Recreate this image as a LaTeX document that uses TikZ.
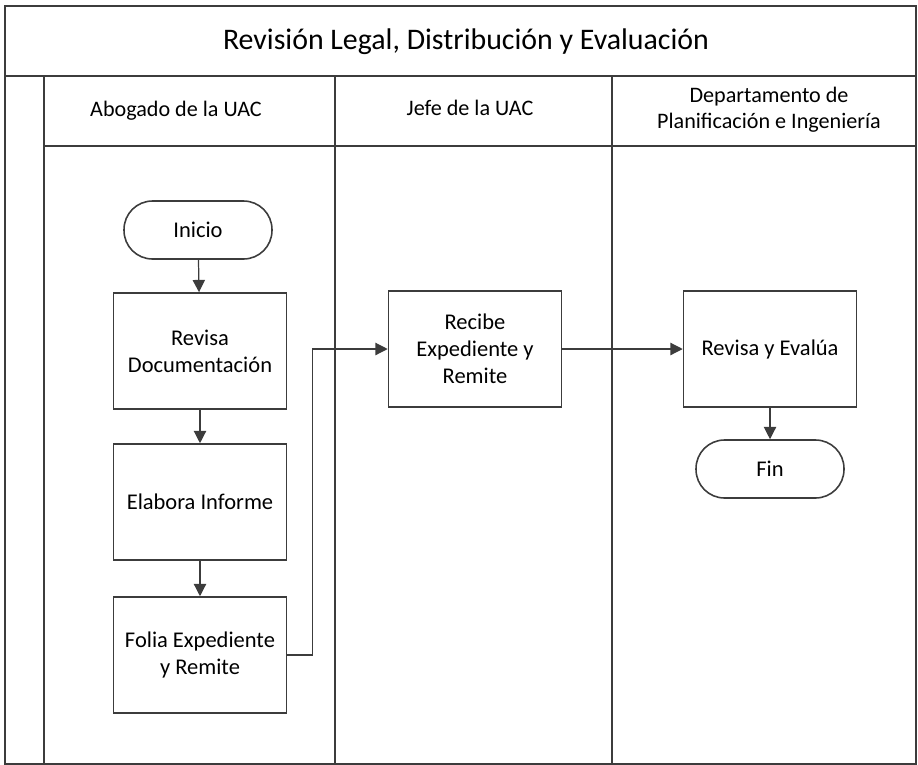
\documentclass[tikz,border=0pt]{standalone}
\usepackage{fontspec}
\setmainfont{Carlito}
\usetikzlibrary{arrows.meta,positioning}
\definecolor{lineagris}{RGB}{60,60,60}
\tikzstyle{proceso} = [draw=lineagris, line width=0.9pt, minimum width=3.46cm, minimum height=2.32cm, align=center, font=\fontsize{12.8}{15.5}\selectfont]
\tikzstyle{terminal} = [draw=lineagris, line width=0.9pt, rounded corners=0.57cm, minimum width=2.96cm, minimum height=1.16cm, font=\fontsize{12.8}{15.5}\selectfont]
\tikzstyle{carril} = [align=center, font=\fontsize{12.6}{15}\selectfont]
\tikzstyle{flecha} = [line width=0.7pt, color=lineagris, -{Triangle[length=7pt,width=7pt]}]

\begin{document}
\begin{tikzpicture}[x=0.02cm, y=-0.02cm]
\useasboundingbox (0,0) rectangle (918,764);
% Marco y carriles
\draw[lineagris, line width=0.9pt] (5,764) -- (5,6) -- (916,6) -- (916,764) -- cycle;
\draw[lineagris, line width=0.9pt] (5,76) -- (916,76);
\draw[lineagris, line width=0.9pt] (44,146) -- (916,146);
\foreach \x in {44,335,612}
    \draw[lineagris, line width=0.9pt] (\x,76) -- (\x,764);

% Titulos
\node[font=\fontsize{17}{20}\selectfont] (titulo) at (466,42) {Revisión Legal, Distribución y Evaluación};
\node[carril] (abogado) at (176,111) {Abogado de la UAC};
\node[carril] (jefe) at (470,108) {Jefe de la UAC};
\node[carril] (depto) at (769,110) {Departamento de\\Planificación e Ingeniería};

% Pasos
\node[terminal] (inicio) at (198,230) {Inicio};
\node[proceso] (revisa) at (200,351) {Revisa\\Documentación};
\node[proceso] (elabora) at (200,502) {Elabora Informe};
\node[proceso] (folia) at (200,655) {Folia Expediente\\y Remite};
\node[proceso] (recibe) at (475,349) {Recibe\\Expediente y\\Remite};
\node[proceso] (evalua) at (770,349) {Revisa y Evalúa};
\node[terminal] (fin) at (770,469) {Fin};

% Conectores
\draw[flecha] (inicio) -- (revisa);
\draw[flecha] (revisa) -- (elabora);
\draw[flecha] (elabora) -- (folia);
\draw[flecha] (folia.east) -- ++(25,0) |- (recibe.west);
\draw[flecha] (recibe) -- (evalua);
\draw[flecha] (evalua) -- (fin);
\end{tikzpicture}
\end{document}
